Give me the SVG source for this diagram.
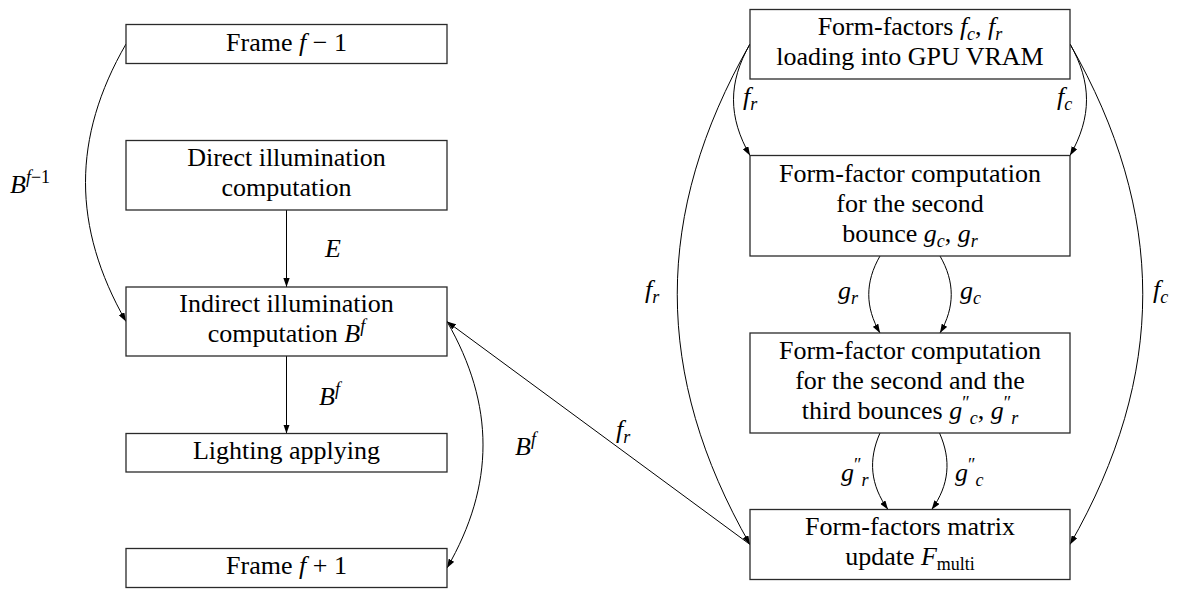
<svg xmlns="http://www.w3.org/2000/svg" width="1179" height="590" viewBox="0 0 1179 590" font-family="Liberation Serif">
<defs>
<style>
svg text.lbl, svg text.ctr{font-family:"Liberation Serif",serif !important;fill:#000;font-size:26px}
svg text.ctr{text-anchor:middle}
.it{font-style:italic}
.sm{font-size:18px}
.nodebox{fill:#fff;stroke:#2a2a2a;stroke-width:1.3}
.edge{fill:none;stroke:#000;stroke-width:1}
</style>
<marker id="ah" viewBox="0 0 10 7" refX="10" refY="3.5" markerWidth="9" markerHeight="6.3" markerUnits="userSpaceOnUse" orient="auto">
<path d="M0,0 L10,3.5 L0,7 z" fill="#000"/>
</marker>
</defs>
<rect width="1179" height="590" fill="#fff"/>

<g id="connectors">
<path class="edge" marker-end="url(#ah)" d="M126,44 C72,137.5 72,227 126,321.5"/>
<path class="edge" marker-end="url(#ah)" d="M286.5,210 L286.5,287"/>
<path class="edge" marker-end="url(#ah)" d="M286.5,356 L286.5,433.5"/>
<path class="edge" marker-end="url(#ah)" d="M447,321.5 C495,405 495,485 447,568"/>
<path class="edge" marker-end="url(#ah)" d="M750,544.5 L447,321.5"/>
<path class="edge" marker-end="url(#ah)" d="M750,44 C653,213.5 653,375 750,544.5"/>
<path class="edge" marker-end="url(#ah)" d="M1070,44 C1167,213.5 1167,375 1070,544.5"/>
<path class="edge" marker-end="url(#ah)" d="M750,44 C728,82.5 728,117 750,155.5"/>
<path class="edge" marker-end="url(#ah)" d="M1070,44 C1092,82.5 1092,117 1070,155.5"/>
<path class="edge" marker-end="url(#ah)" d="M880,256 C865,282 865,307 880,333"/>
<path class="edge" marker-end="url(#ah)" d="M940,256 C955,282 955,307 940,333"/>
<path class="edge" marker-end="url(#ah)" d="M880,433 C868,460 870.4,485 888,509.5"/>
<path class="edge" marker-end="url(#ah)" d="M939.5,433 C951.5,460 949.3,485 931.7,509.5"/>
<g id="labels">
<text font-family="Liberation Serif" class="lbl" x="10" y="193"><tspan class="it">B</tspan><tspan class="sm" dy="-10"><tspan class="it">f</tspan>−1</tspan></text>
<text font-family="Liberation Serif" class="lbl it" x="325" y="257">E</text>
<text font-family="Liberation Serif" class="lbl" x="319" y="405"><tspan class="it">B</tspan><tspan class="sm it" dy="-10">f</tspan></text>
<text font-family="Liberation Serif" class="lbl" x="515" y="455"><tspan class="it">B</tspan><tspan class="sm it" dy="-10">f</tspan></text>
<text font-family="Liberation Serif" class="lbl" x="616" y="438"><tspan class="it">f</tspan><tspan class="sm it" dy="5">r</tspan></text>
<text font-family="Liberation Serif" class="lbl" x="645" y="298"><tspan class="it">f</tspan><tspan class="sm it" dy="5">r</tspan></text>
<text font-family="Liberation Serif" class="lbl" x="1153" y="298"><tspan class="it">f</tspan><tspan class="sm it" dy="5">c</tspan></text>
<text font-family="Liberation Serif" class="lbl" x="743" y="105"><tspan class="it">f</tspan><tspan class="sm it" dy="5">r</tspan></text>
<text font-family="Liberation Serif" class="lbl" x="1057" y="105"><tspan class="it">f</tspan><tspan class="sm it" dy="5">c</tspan></text>
<text font-family="Liberation Serif" class="lbl" x="838" y="299"><tspan class="it">g</tspan><tspan class="sm it" dy="5">r</tspan></text>
<text font-family="Liberation Serif" class="lbl" x="960" y="299"><tspan class="it">g</tspan><tspan class="sm it" dy="5">c</tspan></text>
<text font-family="Liberation Serif" class="lbl" x="841" y="481"><tspan class="it">g</tspan><tspan class="sm" dy="-10">″</tspan><tspan class="sm it" dy="15">r</tspan></text>
<text font-family="Liberation Serif" class="lbl" x="955" y="481"><tspan class="it">g</tspan><tspan class="sm" dy="-10">″</tspan><tspan class="sm it" dy="15">c</tspan></text>
</g>
</g>

<g id="frame-prev">
<rect class="nodebox" x="126" y="24.5" width="321" height="39"/>
<text font-family="Liberation Serif" class="ctr" x="286.5" y="51">Frame <tspan class="it">f</tspan> − 1</text>
</g>
<g id="direct">
<rect class="nodebox" x="126" y="140.5" width="321" height="69.5"/>
<text font-family="Liberation Serif" class="ctr" x="286.5" y="166">Direct illumination</text>
<text font-family="Liberation Serif" class="ctr" x="286.5" y="196">computation</text>
</g>
<g id="indirect">
<rect class="nodebox" x="126" y="287" width="321" height="69"/>
<text font-family="Liberation Serif" class="ctr" x="286.5" y="312">Indirect illumination</text>
<text font-family="Liberation Serif" class="ctr" x="286.5" y="342">computation <tspan class="it">B</tspan><tspan class="sm it" dy="-10">f</tspan></text>
</g>
<g id="lighting">
<rect class="nodebox" x="126" y="433.5" width="321" height="38.5"/>
<text font-family="Liberation Serif" class="ctr" x="286.5" y="459">Lighting applying</text>
</g>
<g id="frame-next">
<rect class="nodebox" x="126" y="548.5" width="321" height="39"/>
<text font-family="Liberation Serif" class="ctr" x="286.5" y="574">Frame <tspan class="it">f</tspan> + 1</text>
</g>

<g id="ff-load">
<rect class="nodebox" x="750" y="9.5" width="320" height="69.5"/>
<text font-family="Liberation Serif" class="ctr" x="910" y="35">Form-factors <tspan class="it">f</tspan><tspan class="sm it" dy="5">c</tspan><tspan dy="-5">, </tspan><tspan class="it">f</tspan><tspan class="sm it" dy="5">r</tspan></text>
<text font-family="Liberation Serif" class="ctr" x="910" y="65">loading into GPU VRAM</text>
</g>
<g id="ff-second">
<rect class="nodebox" x="750" y="155.5" width="320" height="100.5"/>
<text font-family="Liberation Serif" class="ctr" x="910" y="182">Form-factor computation</text>
<text font-family="Liberation Serif" class="ctr" x="910" y="212">for the second</text>
<text font-family="Liberation Serif" class="ctr" x="910" y="242">bounce <tspan class="it">g</tspan><tspan class="sm it" dy="5">c</tspan><tspan dy="-5">, </tspan><tspan class="it">g</tspan><tspan class="sm it" dy="5">r</tspan></text>
</g>
<g id="ff-third">
<rect class="nodebox" x="750" y="333" width="320" height="100"/>
<text font-family="Liberation Serif" class="ctr" x="910" y="359">Form-factor computation</text>
<text font-family="Liberation Serif" class="ctr" x="910" y="389">for the second and the</text>
<text font-family="Liberation Serif" class="ctr" x="910" y="419">third bounces <tspan class="it">g</tspan><tspan class="sm" dy="-10">″</tspan><tspan class="sm it" dy="15">c</tspan><tspan dy="-5">, </tspan><tspan class="it">g</tspan><tspan class="sm" dy="-10">″</tspan><tspan class="sm it" dy="15">r</tspan></text>
</g>
<g id="ff-matrix">
<rect class="nodebox" x="750" y="509.5" width="320" height="70"/>
<text font-family="Liberation Serif" class="ctr" x="910" y="535">Form-factors matrix</text>
<text font-family="Liberation Serif" class="ctr" x="910" y="565">update <tspan class="it">F</tspan><tspan class="sm" dy="5">multi</tspan></text>
</g>
</svg>
